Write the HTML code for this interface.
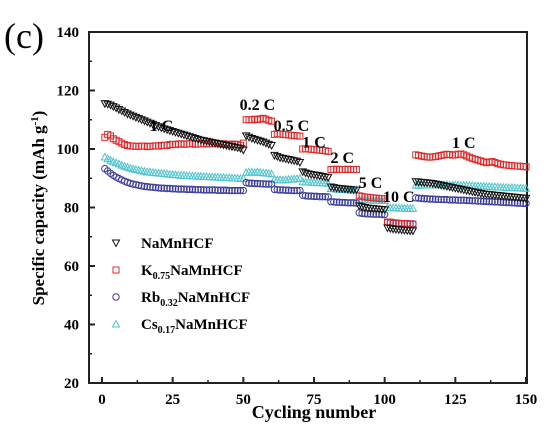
<!DOCTYPE html>
<html><head><meta charset="utf-8"><style>
html,body{margin:0;padding:0;background:#fff;}
svg{display:block;font-family:"Liberation Serif",serif;font-weight:bold;}
</style></head><body>
<svg id="chart" width="549" height="430" viewBox="0 0 549 430">
<text x="4" y="48" font-size="36" font-weight="normal">(c)</text>
<g id="axes"></g>
<g id="marks"></g>
<g id="legend"></g>
<g id="annots"></g>
<text transform="translate(44,208) rotate(-90)" text-anchor="middle" font-size="17">Specific capacity (mAh g<tspan dy="-6" font-size="11">-1</tspan><tspan dy="6">)</tspan></text>
<text x="314" y="418" text-anchor="middle" font-size="18">Cycling number</text>
</svg>
<script>
const xTicks=[0,25,50,75,100,125,150];
const yTicks=[20,40,60,80,100,120,140];
const naMnHCF=[115.5,115.3,115,114.5,114,113.5,113,112.5,112,111.6,111.2,110.8,110.4,110,109.6,109.2,108.8,108.4,108,107.6,107.2,106.9,106.6,106.3,106,105.7,105.4,105.1,104.8,104.5,104.2,103.9,103.6,103.3,103,102.8,102.6,102.4,102.2,102,101.8,101.6,101.4,101.2,101,100.8,100.6,100.4,100.2,99.6,
104.5,104,103.6,103.3,103,102.7,102.4,102,101.6,101.2,
97.8,97.4,97,96.8,96.6,96.4,96.2,96,95.8,95.4,
92.2,91.8,91.5,91.3,91.1,91,90.8,90.6,90.4,90.2,
87,86.8,86.6,86.5,86.4,86.3,86.2,86.1,86,86,
80.5,80.2,80,79.8,79.7,79.6,79.5,79.4,79.3,79.2,
73,72.8,72.6,72.5,72.4,72.3,72.2,72.1,72,72,
88.8,88.7,88.6,88.5,88.4,88.3,88.2,88,87.8,87.6,87.4,87.2,87,86.8,86.6,86.4,86.2,86,85.8,85.6,85.4,85.2,85,84.8,84.6,84.5,84.4,84.3,84.2,84.1,84,83.9,83.8,83.7,83.6,83.5,83.4,83.3,83.2,83.1];
const kNaMnHCF=[104,105,104.5,103.5,103,102.5,102,101.5,101.2,101,101,100.9,100.9,101,101,100.8,100.9,101,101.1,101,101.2,101.3,101.2,101.5,101.6,101.5,101.7,101.8,101.6,101.7,101.8,101.8,101.6,101.7,101.8,101.9,101.7,101.8,101.8,101.9,101.8,101.7,101.8,101.6,101.5,101.7,101.5,101.6,101.3,102,
110,110,110,110.2,110,110.3,110.5,110.2,109.8,109.5,
105,105.2,105.1,105,104.9,104.8,104.7,104.6,104.5,104.4,
100,100.1,100,99.9,99.8,99.7,99.6,99.5,99.4,99.2,
93,93,93.1,93,93,93,93.1,93,93,93,
84,83.8,83.6,83.5,83.4,83.3,83.2,83.1,83,83,
75,75,74.8,74.7,74.6,74.5,74.5,74.4,74.3,74.3,
98,97.8,97.6,97.4,97.3,97.2,97.3,97.4,97.6,97.8,98,98.2,98.1,97.9,98,98.2,98.3,98,97.6,97.2,96.8,96.5,96.2,95.9,95.6,95.3,95.5,95.7,95.4,95,94.8,94.6,94.5,94.4,94.3,94.2,94.2,94.1,94,93.9];
const rbNaMnHCF=[93.3,92.5,91.7,91,90.4,89.9,89.4,89,88.6,88.3,88,87.8,87.6,87.4,87.2,87.1,87,86.9,86.8,86.7,86.6,86.6,86.5,86.5,86.4,86.4,86.3,86.3,86.3,86.2,86.2,86.2,86.1,86.1,86.1,86,86,86,86,86,85.9,85.9,85.9,85.9,85.8,85.8,85.8,85.8,85.8,85.8,
88.5,88.3,88.3,88.2,88.2,88.1,88.1,88,88,88,
86.2,86.1,86,86,85.9,85.9,85.8,85.8,85.8,85.8,
84.2,84,83.9,83.9,83.8,83.8,83.7,83.7,83.7,83.6,
82,81.9,81.8,81.8,81.7,81.7,81.6,81.6,81.6,81.5,
78.2,78,77.9,77.8,77.8,77.7,77.7,77.7,77.6,77.6,
75,74.8,74.7,74.6,74.6,74.5,74.5,74.5,74.4,74.4,
83.3,83.2,83.1,83,83,82.9,82.9,82.8,82.8,82.7,82.7,82.7,82.6,82.6,82.6,82.5,82.5,82.5,82.4,82.4,82.3,82.3,82.2,82.2,82.1,82.1,82,82,81.9,81.9,81.8,81.8,81.7,81.7,81.6,81.6,81.5,81.5,81.4,81.4];
const csNaMnHCF=[97.3,96.7,96.2,95.7,95.3,94.9,94.5,94.1,93.8,93.5,93.2,93,92.8,92.6,92.4,92.2,92.1,92,91.9,91.8,91.7,91.6,91.5,91.4,91.3,91.2,91.1,91,91,90.9,90.9,90.8,90.8,90.7,90.7,90.6,90.6,90.5,90.5,90.4,90.4,90.3,90.3,90.2,90.2,90.1,90.1,90,90,89.9,
92,92.2,92.1,92,92.2,92,91.9,91.8,91.7,91.5,
89.6,89.5,89.5,89.4,89.5,89.6,89.7,89.8,89.9,90,
88.8,88.7,88.7,88.6,88.6,88.5,88.5,88.4,88.4,88.3,
86.5,86.4,86.3,86.2,86.2,86.1,86.1,86,86,86,
82.8,82.7,82.7,82.6,82.6,82.5,82.5,82.5,82.4,82.4,
80,80,79.9,79.9,79.8,79.8,79.8,79.7,79.7,79.7,
87.6,87.6,87.6,87.7,87.7,87.7,87.7,87.8,87.8,87.8,87.8,87.8,87.7,87.7,87.7,87.7,87.6,87.6,87.6,87.5,87.5,87.4,87.4,87.3,87.3,87.2,87.2,87.1,87.1,87,87,86.9,86.9,86.8,86.8,86.8,86.7,86.7,86.6,86.6];
const rateLabels=["1 C","0.2 C","0.5 C","1 C","2 C","5 C","10 C","1 C"];
const rateLabelX=[21,55,67,75,85,95,105,128];
const rateLabelY=[106.2,113.3,106.2,100.5,95.2,86.7,81.9,100.3];

const NS="http://www.w3.org/2000/svg";
const L=89,R=527,T=32,B=383;
const sx=v=>102+(v-0)*(526-102)/150;
const sy=v=>383-(v-20)*(383-32)/120;
function mk(tag,attrs,parent){const e=document.createElementNS(NS,tag);for(const k in attrs)e.setAttribute(k,attrs[k]);parent.appendChild(e);return e;}
const axes=document.getElementById('axes');
const frame=mk('rect',{x:L,y:T,width:R-L,height:B-T,fill:'none',stroke:'#222','stroke-width':2},axes);


xTicks.forEach((t,i)=>{
  const x=sx(t);
  const tk=mk('line',{x1:x,x2:x,y1:B,y2:B-6,stroke:'#222','stroke-width':2},axes);
  
  
  if(i<xTicks.length-1){const m=sx(t+12.5);const mt=mk('line',{x1:m,x2:m,y1:B,y2:B-3,stroke:'#222','stroke-width':1.5},axes);
  
  }
  const lb=mk('text',{x:x,y:404,'text-anchor':'middle','font-size':15},axes);lb.textContent=t;
  
  
});
yTicks.forEach((t,i)=>{
  const y=sy(t);
  const tk=mk('line',{x1:L,x2:L+6,y1:y,y2:y,stroke:'#222','stroke-width':2},axes);
  
  
  if(i<yTicks.length-1){const m=sy(t+10);const mt=mk('line',{x1:L,x2:L+3,y1:m,y2:m,stroke:'#222','stroke-width':1.5},axes);
  
  }
  const lb=mk('text',{x:79,y:y+5,'text-anchor':'end','font-size':15},axes);lb.textContent=t;
  
  
});
function marker(kind,x,y,color,parent){
  let e;
  if(kind==='tdown') e=mk('polygon',{points:`${x-3.5},${y-3} ${x+3.5},${y-3} ${x},${y+3.5}`,fill:'none',stroke:color,'stroke-width':1},parent);
  else if(kind==='tup') e=mk('polygon',{points:`${x-3.5},${y+3} ${x+3.5},${y+3} ${x},${y-3.5}`,fill:'none',stroke:color,'stroke-width':1},parent);
  else if(kind==='sq') e=mk('rect',{x:x-3,y:y-3,width:6,height:6,fill:'none',stroke:color,'stroke-width':1},parent);
  else e=mk('circle',{cx:x,cy:y,r:3.2,fill:'none',stroke:color,'stroke-width':1},parent);
  return e;
}
const series=[
 {name:'cs-series',data:csNaMnHCF,kind:'tup',color:'#4fc4cf'},
 {name:'rb-series',data:rbNaMnHCF,kind:'circ',color:'#3a3a9c'},
 {name:'k-series',data:kNaMnHCF,kind:'sq',color:'#e0282a'},
 {name:'na-series',data:naMnHCF,kind:'tdown',color:'#111'}
];
const marks=document.getElementById('marks');
series.forEach(s=>{
  const g=mk('g',{},marks);
  
  
  s.data.forEach((v,i)=>{
    const p=marker(s.kind,sx(i+1),sy(v),s.color,g);
    
    
  });
});
const legendItems=[
 {kind:'tdown',color:'#111',label:'NaMnHCF',sub:'',rest:''},
 {kind:'sq',color:'#e0282a',label:'K',sub:'0.75',rest:'NaMnHCF'},
 {kind:'circ',color:'#3a3a9c',label:'Rb',sub:'0.32',rest:'NaMnHCF'},
 {kind:'tup',color:'#4fc4cf',label:'Cs',sub:'0.17',rest:'NaMnHCF'}
];
const lg=document.getElementById('legend');
legendItems.forEach((it,i)=>{
  const y=243+i*27;
  const g=mk('g',{},lg);
  
  
  marker(it.kind,116,y,it.color,g);
  const t=mk('text',{x:141,y:y+5,'font-size':15},g);
  t.appendChild(document.createTextNode(it.label));
  if(it.sub){const s=mk('tspan',{dy:4,'font-size':10},t);s.textContent=it.sub;const r=mk('tspan',{dy:-4},t);r.textContent=it.rest;}
});
const an=document.getElementById('annots');
rateLabels.forEach((l,i)=>{
  const t=mk('text',{x:sx(rateLabelX[i]),y:sy(rateLabelY[i]),'font-size':16,'text-anchor':'middle'},an);
  t.textContent=l;
  
  
});
</script>
</body></html>
